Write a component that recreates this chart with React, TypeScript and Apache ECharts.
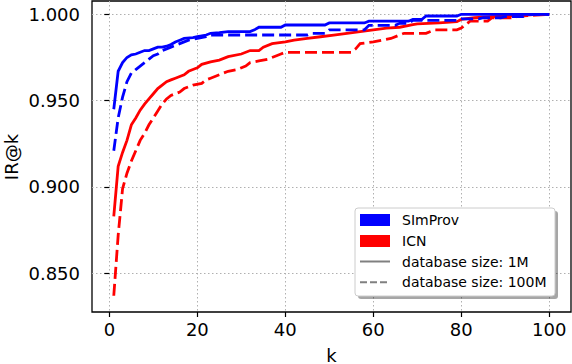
import React, { useEffect, useRef } from "react";
import * as echarts from "echarts";

const xTicks = [0, 20, 40, 60, 80, 100];
const yTicks = [0.85, 0.9, 0.95, 1.0];

const seriesNames = ["SImProv", "ICN"];
const sizeNames = ["database size: 1M", "database size: 100M"];
const yTitle = "IR@k";
const xTitle = "k";

const simprov1M: [number, number][] = [
  [1, 0.945], [2, 0.967], [3, 0.972], [4, 0.975], [5, 0.9765], [6, 0.977], [7, 0.978],
  [8, 0.979], [9, 0.979], [10, 0.98], [11, 0.981], [12, 0.981], [13, 0.9815], [14, 0.9825],
  [15, 0.984], [16, 0.985], [17, 0.986], [19, 0.9865], [20, 0.987], [22, 0.988], [23, 0.989],
  [25, 0.9894], [27, 0.990], [32, 0.990], [33, 0.991], [34, 0.9925], [39, 0.9925],
  [40, 0.9938], [49, 0.9938], [50, 0.995], [58, 0.995], [59, 0.996], [68, 0.996],
  [69, 0.997], [71, 0.997], [72, 0.999], [79, 0.999], [80, 1.0], [100, 1.0],
];

const simprov100M: [number, number][] = [
  [1, 0.921], [2, 0.94], [3, 0.952], [4, 0.961], [5, 0.966], [6, 0.968], [7, 0.970],
  [8, 0.972], [9, 0.974], [10, 0.976], [11, 0.977], [12, 0.979], [13, 0.980], [14, 0.981],
  [15, 0.982], [16, 0.983], [17, 0.984], [18, 0.985], [20, 0.986], [22, 0.987],
  [23, 0.988], [45, 0.988], [46, 0.989], [49, 0.989], [50, 0.991], [58, 0.991],
  [59, 0.9936], [65, 0.9936], [66, 0.9948], [68, 0.9948], [69, 0.9965], [79, 0.9965],
  [80, 0.9973], [84, 0.9973], [85, 0.998], [89, 0.998], [90, 0.9986], [94, 0.9986],
  [95, 1.0], [100, 1.0],
];

const icn1M: [number, number][] = [
  [1, 0.883], [2, 0.912], [3, 0.920], [4, 0.927], [5, 0.936], [6, 0.940], [7, 0.9445],
  [8, 0.948], [9, 0.951], [10, 0.954], [11, 0.957], [12, 0.959], [13, 0.961], [14, 0.962],
  [15, 0.963], [16, 0.964], [17, 0.965], [18, 0.967], [19, 0.968], [20, 0.969],
  [21, 0.971], [23, 0.9725], [25, 0.9735], [27, 0.9755], [30, 0.977], [32, 0.979],
  [34, 0.979], [35, 0.981], [37, 0.983], [40, 0.984], [42, 0.985], [45, 0.986],
  [48, 0.987], [51, 0.988], [54, 0.989], [57, 0.990], [60, 0.991], [63, 0.992],
  [66, 0.9925], [69, 0.994], [70, 0.9945], [75, 0.995], [79, 0.9957], [80, 0.997],
  [83, 0.998], [87, 0.9986], [90, 0.999], [95, 0.9995], [97, 1.0], [100, 1.0],
];

const icn100M: [number, number][] = [
  [1, 0.837], [2, 0.872], [3, 0.899], [4, 0.908], [5, 0.915], [6, 0.921], [7, 0.927],
  [8, 0.931], [9, 0.936], [10, 0.940], [11, 0.944], [12, 0.948], [13, 0.951], [14, 0.953],
  [15, 0.954], [16, 0.955], [17, 0.957], [18, 0.958], [19, 0.959], [21, 0.960],
  [22, 0.962], [23, 0.963], [25, 0.965], [27, 0.967], [29, 0.968], [31, 0.970],
  [32, 0.972], [34, 0.973], [36, 0.974], [38, 0.976], [39, 0.977], [40, 0.978],
  [55, 0.978], [56, 0.980], [57, 0.983], [60, 0.984], [62, 0.985], [64, 0.986],
  [66, 0.988], [67, 0.989], [72, 0.989], [73, 0.990], [74, 0.991], [79, 0.991],
  [80, 0.992], [81, 0.994], [82, 0.996], [86, 0.996], [87, 0.998], [92, 0.998],
  [93, 0.999], [97, 0.9995], [100, 1.0],
];

const BLUE = "#0000ff";
const RED = "#ff0000";
const FONT = "DejaVu Sans";
const DASH = [12, 5];

export default function App() {
  const ref = useRef<HTMLDivElement>(null);
  useEffect(() => {
    const chart = echarts.init(ref.current!, null, { renderer: "svg" });
    const mk = (name: string, data: [number, number][], color: string, dashed: boolean) => ({
      type: "line",
      name,
      data,
      showSymbol: false,
      symbol: "none",
      lineStyle: { color, width: 2.8, type: dashed ? DASH : "solid", cap: "butt", join: "miter" },
      z: 3,
    });
    const lx = 355, ly = 208, lw = 200, lh = 88;
    const rowY = [220, 241, 261.5, 282.3];
    chart.setOption({
      animation: false,
      grid: {
        show: true,
        left: 92,
        right: 1,
        top: 1,
        bottom: 52,
        containLabel: false,
        outerBoundsMode: "none",
        borderColor: "#000",
        borderWidth: 1.3,
        backgroundColor: "transparent",
      },
      xAxis: {
        type: "value",
        min: -3.95,
        max: 104.95,
        axisLine: { show: false },
        axisTick: { show: true, inside: false, length: 5, lineStyle: { color: "#000", width: 1.2 }, customValues: xTicks },
        axisLabel: { customValues: xTicks, fontSize: 18, color: "#000", fontFamily: FONT, margin: 8 },
        splitLine: { show: true, lineStyle: { type: [1.5, 2.5], color: "#b0b0b0", width: 1 } },
        name: xTitle,
        nameLocation: "middle",
        nameGap: 34,
        nameTextStyle: { fontSize: 18, color: "#000", fontFamily: FONT },
      },
      yAxis: {
        type: "value",
        min: 0.8276,
        max: 1.0077,
        axisLine: { show: false },
        axisTick: { show: true, inside: false, length: 5, lineStyle: { color: "#000", width: 1.2 }, customValues: yTicks },
        axisLabel: {
          customValues: yTicks,
          fontSize: 18,
          color: "#000",
          fontFamily: FONT,
          margin: 12,
          formatter: (v: number) => v.toFixed(3),
        },
        splitLine: { show: true, lineStyle: { type: [1.5, 2.5], color: "#b0b0b0", width: 1 } },
      },
      series: [
        mk("ICN 1M", icn1M, RED, false),
        mk("ICN 100M", icn100M, RED, true),
        mk("SImProv 1M", simprov1M, BLUE, false),
        mk("SImProv 100M", simprov100M, BLUE, true),
      ],
      graphic: [
        {
          type: "text",
          x: 11,
          y: 157,
          rotation: Math.PI / 2,
          style: { text: yTitle, fill: "#000", font: `18px "${FONT}"`, align: "center", verticalAlign: "middle" },
        },
        {
          type: "rect",
          shape: { x: lx + 3, y: ly + 3, width: lw, height: lh, r: 3 },
          style: { fill: "rgba(0,0,0,0.35)" },
          z: 100,
        },
        {
          type: "rect",
          shape: { x: lx, y: ly, width: lw, height: lh, r: 3 },
          style: { fill: "#ffffff", stroke: "#cccccc", lineWidth: 1 },
          z: 101,
        },
        { type: "rect", shape: { x: 360, y: rowY[0] - 6, width: 30, height: 12 }, style: { fill: BLUE }, z: 102 },
        { type: "rect", shape: { x: 360, y: rowY[1] - 6, width: 30, height: 12 }, style: { fill: RED }, z: 102 },
        {
          type: "line",
          shape: { x1: 360, y1: rowY[2], x2: 390, y2: rowY[2] },
          style: { stroke: "#808080", lineWidth: 2 },
          z: 102,
        },
        {
          type: "line",
          shape: { x1: 360, y1: rowY[3], x2: 390, y2: rowY[3] },
          style: { stroke: "#808080", lineWidth: 2, lineDash: [7, 3] },
          z: 102,
        },
        ...[seriesNames[0], seriesNames[1], sizeNames[0], sizeNames[1]].map((t, i) => ({
          type: "text",
          x: 402,
          y: rowY[i],
          style: { text: t, fill: "#000", font: `14px "${FONT}"`, align: "left", verticalAlign: "middle" },
          z: 102,
        })),
      ],
    });
    return () => chart.dispose();
  }, []);
  return <div ref={ref} style={{ position: "absolute", left: 0, top: 0, width: 572, height: 364 }} />;
}
